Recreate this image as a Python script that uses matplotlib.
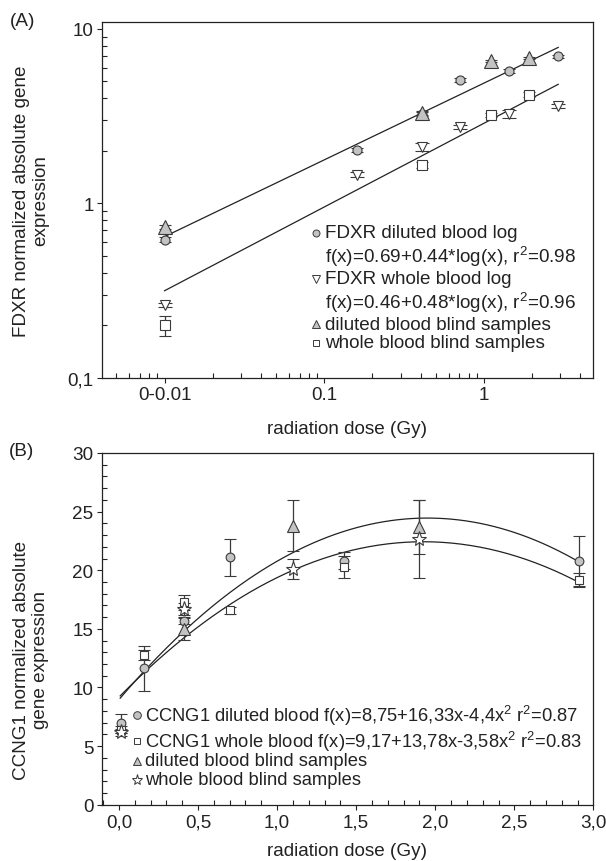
import numpy as np
import matplotlib.pyplot as plt
from matplotlib.ticker import LogLocator, MultipleLocator, NullFormatter

plt.rcParams['font.family'] = ['Liberation Sans', 'DejaVu Sans']
plt.rcParams['font.size'] = 13.6
plt.rcParams['mathtext.fontset'] = 'custom'
plt.rcParams['mathtext.rm'] = 'Liberation Sans'
plt.rcParams['mathtext.it'] = 'Liberation Sans:italic'

# ---- panel A : FDXR (log-log) ----
dose_a = [0.01, 0.16, 0.41, 0.71, 1.43, 2.9]
fdxr_dil = [0.62, 2.03, 3.26, 5.1, 5.77, 6.97]
fdxr_dil_err = [0.02, 0.06, 0.08, 0.15, 0.15, 0.15]
fdxr_whole = [0.262, 1.46, 2.10, 2.75, 3.26, 3.63]
fdxr_whole_err = [0.008, 0.05, 0.11, 0.08, 0.17, 0.1]

blind_a = [0.01, 0.41, 1.1, 1.92]
fdxr_dil_blind = [0.73, 3.30, 6.57, 6.83]
fdxr_dil_blind_err = [0.02, 0.1, 0.1, 0.1]
fdxr_whole_blind = [0.201, 1.66, 3.21, 4.21]
fdxr_whole_blind_err = [0.026, 0.06, 0.1, 0.15]

fit_a_dil = (0.69, 0.44)     # log10(y) = a + b*log10(x)
fit_a_whole = (0.46, 0.48)

# ---- panel B : CCNG1 (linear) ----
dose_b = [0.01, 0.16, 0.41, 0.70, 1.42, 2.91]
ccng_dil = [6.95, 11.64, 15.7, 21.1, 20.82, 20.76]
ccng_dil_err = [0.8, 1.91, 0.3, 1.55, 0.71, 2.2]
ccng_whole = [6.4, 12.77, 17.27, 16.6, 20.26, 19.19]
ccng_whole_err = [0.3, 0.43, 0.63, 0.3, 0.92, 0.57]

tri_dose_b = [0.41, 1.1, 1.9]
ccng_dil_blind = [15.0, 23.8, 23.72]
ccng_dil_blind_err = [0.92, 2.2, 2.3]
star_dose_b = [0.01, 0.41, 1.1, 1.9]
ccng_whole_blind = [6.18, 16.7, 20.1, 22.67]
ccng_whole_blind_err = [0.3, 0.5, 0.85, 3.3]

fit_b_dil = (8.96, 15.88, -4.07)
fit_b_whole = (9.17, 13.78, -3.58)

W, H = 606, 862
GREY = '#c3c3c3'
EDGE = '#3a3a3a'
INK = '#222222'


def fx(x):
    return x / W


def fy(y):
    return 1 - y / H


fig = plt.figure(figsize=(W / 100, H / 100), dpi=100)
axA = fig.add_axes([fx(102), fy(379), (593.4 - 102) / W, (379 - 22.7) / H])
axB = fig.add_axes([fx(102), fy(805.7), (593.4 - 102) / W, (805.7 - 454) / H])


def pts(ax, x, y, err, marker, ms, fc, cap=4.5):
    ax.errorbar(x, y, yerr=err, fmt=marker, ms=ms, mfc=fc, mec=EDGE, mew=0.8,
                ecolor=EDGE, elinewidth=0.9, capsize=cap, capthick=0.9, zorder=3)


def style(ax):
    for s in ax.spines.values():
        s.set_linewidth(0.9)
        s.set_color(INK)
    ax.tick_params(which='major', direction='out', length=3.6, width=0.8, pad=2.5,
                   top=False, right=False, colors=INK)
    ax.tick_params(which='minor', direction='in', length=3.6, width=0.8,
                   top=False, right=False, colors=INK)


# panel A
xx = np.geomspace(0.01, 2.91, 50)
for a, b in (fit_a_dil, fit_a_whole):
    axA.plot(xx, 10 ** (a + b * np.log10(xx)), color=INK, lw=0.9, zorder=1)
pts(axA, dose_a, fdxr_dil, fdxr_dil_err, 'o', 6.5, GREY)
pts(axA, dose_a, fdxr_whole, fdxr_whole_err, 'v', 7.2, 'white', 5)
pts(axA, blind_a, fdxr_dil_blind, fdxr_dil_blind_err, '^', 9.8, GREY)
pts(axA, blind_a, fdxr_whole_blind, fdxr_whole_blind_err, 's', 7.0, 'white')

axA.set_xscale('log')
axA.set_yscale('log')
axA.set_xlim(0.00406, 4.83)
axA.set_ylim(0.1, 11.0)
axA.set_xticks([0.01, 0.1, 1], ['0-0.01', '0.1', '1'])
axA.set_yticks([0.1, 1, 10], ['0,1', '1', '10'])
axA.xaxis.set_minor_locator(LogLocator(base=10, subs=np.arange(2, 10)))
axA.yaxis.set_minor_locator(LogLocator(base=10, subs=np.arange(2, 10)))
axA.xaxis.set_minor_formatter(NullFormatter())
axA.yaxis.set_minor_formatter(NullFormatter())
style(axA)

# panel B
xb = np.linspace(0.008, 2.91, 200)
for c0, c1, c2 in (fit_b_dil, fit_b_whole):
    axB.plot(xb, c0 + c1 * xb + c2 * xb ** 2, color=INK, lw=0.9, zorder=1)
pts(axB, dose_b, ccng_dil, ccng_dil_err, 'o', 6.3, GREY, 4.2)
pts(axB, dose_b, ccng_whole, ccng_whole_err, 's', 6.0, 'white', 4.2)
pts(axB, tri_dose_b, ccng_dil_blind, ccng_dil_blind_err, '^', 8.8, GREY, 4.2)
pts(axB, star_dose_b, ccng_whole_blind, ccng_whole_blind_err, '*', 11.0, 'white', 4.2)

axB.set_xlim(-0.107, 3.0)
axB.set_ylim(0, 30)
axB.set_xticks(np.arange(0, 3.01, 0.5), ['0,0', '0,5', '1,0', '1,5', '2,0', '2,5', '3,0'])
axB.set_yticks(np.arange(0, 31, 5))
axB.xaxis.set_minor_locator(MultipleLocator(0.1))
axB.yaxis.set_minor_locator(MultipleLocator(1))
style(axB)

# axis titles
fig.text(fx(31), fy(200.8), 'FDXR normalized absolute gene\nexpression', rotation=90,
         ha='center', va='center', multialignment='center', color=INK)
fig.text(fx(31), fy(660), 'CCNG1 normalized absolute\ngene expression', rotation=90,
         ha='center', va='center', multialignment='center', color=INK)
fig.text(fx(347), fy(429), 'radiation dose (Gy)', ha='center', va='center', color=INK)
fig.text(fx(347), fy(852), 'radiation dose (Gy)', ha='center', va='center', color=INK)
fig.text(fx(23), fy(21), '(A)', ha='center', va='center', color=INK)
fig.text(fx(22), fy(452), '(B)', ha='center', va='center', color=INK)

# legend A (hand placed)
leg_a = [
    ('o', GREY, 5.0, 'FDXR diluted blood log', 234),
    (None, None, 0, 'f(x)=0.69+0.44*log(x), r$^2$=0.98', 257),
    ('v', 'white', 5.5, 'FDXR whole blood log', 280),
    (None, None, 0, 'f(x)=0.46+0.48*log(x), r$^2$=0.96', 303),
    ('^', GREY, 6.0, 'diluted blood blind samples', 325),
    ('s', 'white', 4.8, 'whole blood blind samples', 344),
]
for m, fc, ms, label, y in leg_a:
    if m:
        axA.plot([fx(316)], [fy(y)], m, ms=ms, mfc=fc, mec=EDGE, mew=0.7,
                 transform=fig.transFigure, clip_on=False)
    fig.text(fx(325), fy(y), label, ha='left', va='center', color=INK)

# legend B
leg_b = [
    ('o', GREY, 5.5, 'CCNG1 diluted blood f(x)=8,75+16,33x-4,4x$^2$ r$^2$=0.87', 716),
    ('s', 'white', 5.0, 'CCNG1 whole blood f(x)=9,17+13,78x-3,58x$^2$ r$^2$=0.83', 741.7),
    ('^', GREY, 6.0, 'diluted blood blind samples', 761.7),
    ('*', 'white', 8.0, 'whole blood blind samples', 781),
]
for m, fc, ms, label, y in leg_b:
    axB.plot([fx(137)], [fy(y)], m, ms=ms, mfc=fc, mec=EDGE, mew=0.7,
             transform=fig.transFigure, clip_on=False)
    fig.text(fx(145), fy(y), label, ha='left', va='center', color=INK, fontsize=13.2)

fig.savefig('out.png', dpi=100)
